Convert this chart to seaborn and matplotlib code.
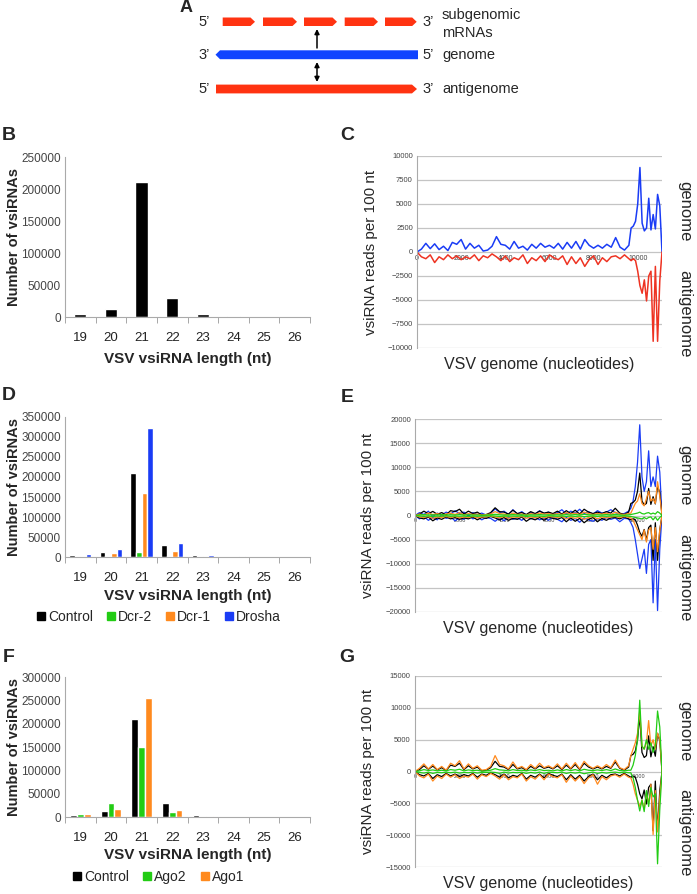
"""
VSV vsiRNA figure: size distributions (B, D, F) and genome coverage (C, E, G)
"""

import numpy as np
import pandas as pd
import matplotlib
matplotlib.use("Agg")
import matplotlib.pyplot as plt
from matplotlib.patches import Polygon
from matplotlib.lines import Line2D
import seaborn as sns

W, H = 697, 894

# ---- size distribution data (reads per length) ----
lengths = [19, 20, 21, 22, 23, 24, 25, 26]

b_control = [5000, 13000, 211000, 29000, 4000, 1000, 300, 100]

d_control = [5000, 13000, 211000, 29000, 4000, 1000, 300, 100]
d_dcr2 = [1000, 1500, 13000, 3000, 500, 200, 100, 50]
d_dcr1 = [3000, 9000, 159000, 16000, 2000, 500, 200, 100]
d_drosha = [7000, 20000, 322000, 35000, 6000, 2000, 1000, 500]

f_control = [5000, 13000, 211000, 29000, 4000, 1000, 300, 100]
f_ago2 = [7000, 31000, 150000, 11000, 500, 200, 100, 50]
f_ago1 = [6000, 18000, 255000, 14000, 2000, 500, 200, 100]

# ---- coverage along the genome (reads per 100 nt) ----
positions = [0, 200, 400, 600, 800, 1000, 1200, 1400,
             1600, 1800, 2000, 2200, 2400, 2600, 2800, 3000,
             3200, 3400, 3600, 3800, 4000, 4200, 4400, 4600,
             4800, 5000, 5200, 5400, 5600, 5800, 6000, 6200,
             6400, 6600, 6800, 7000, 7200, 7400, 7600, 7800,
             8000, 8200, 8400, 8600, 8800, 9000, 9200, 9400,
             9600, 9700, 9800, 9900, 10000, 10100, 10200, 10300,
             10400, 10500, 10600, 10700, 10800, 10900, 11000, 11100]

ctrl_pos = [0, 300, 900, 350, 850, 250, 600, 150,
            1000, 800, 1300, 300, 900, 400, 700, 100,
            200, 600, 1600, 800, 700, 300, 1100, 400,
            600, 200, 800, 400, 900, 500, 700, 400,
            900, 300, 1000, 400, 1100, 300, 1300, 700,
            400, 700, 400, 800, 500, 1500, 500, 200,
            700, 2500, 2700, 3200, 5000, 8800, 3000, 2200,
            2500, 5600, 2300, 3900, 2400, 6000, 4800, 0]
ctrl_neg = [0, -500, -700, -300, -1100, -500, -800, -300,
            -700, -400, -800, -500, -700, -300, -900, -400,
            -600, -200, -500, -900, -400, -1000, -600, -800,
            -300, -1200, -600, -900, -400, -1000, -300, -600,
            -800, -400, -1300, -500, -1200, -600, -1500, -800,
            -400, -1300, -600, -1000, -500, -400, -700, -300,
            -700, -900, -700, -900, -2000, -3500, -4300, -2900,
            -5100, -2500, -2000, -9300, -1500, -9300, -3000, 0]

drosha_pos = [0, 600, 200, 900, -200, 500, 100, 700,
              300, 1000, 400, 700, -100, 600, 200, 500,
              100, 400, 1400, 600, 900, 200, 1200, 300,
              800, 100, 600, 300, 1000, 400, 700, 200,
              600, 1200, 300, 900, 500, 1300, 400, 800,
              300, 1000, 500, 700, 1200, 600, 300, 400,
              900, 1500, 3000, 6000, 11000, 18800, 8000, 5000,
              7000, 13400, 6000, 8000, 6000, 12300, 9000, 0]
drosha_neg = [0, -700, -200, -1000, -400, -900, 200, -600,
              -300, -1100, -500, -800, 100, -700, -300, -900,
              -400, -600, -1200, -500, -1100, -300, -800, -500,
              -1000, -200, -700, -400, -900, -500, -1000, -300,
              -800, -1300, -400, -1000, -600, -1400, -500, -900,
              -1200, -600, -1000, -400, -800, -500, -1300, -600,
              -700, -1500, -2500, -5000, -8000, -11000, -9000, -7000,
              -12000, -6000, -5000, -18100, -5000, -19700, -7000, 0]

dcr1_pos = [0, 300, 100, 500, 200, 400, 100, 300,
            500, 200, 600, 100, 400, 200, 300, 100,
            200, 300, 800, 400, 300, 100, 500, 200,
            300, 100, 400, 200, 500, 300, 400, 200,
            400, 200, 600, 300, 500, 200, 700, 400,
            200, 400, 300, 500, 200, 700, 300, 200,
            400, 500, 1500, 2500, 3000, 4500, 2500, 2000,
            3500, 5000, 3000, 3500, 2500, 7000, 4000, 0]
dcr1_neg = [0, -300, -400, -200, -600, -300, -400, -200,
            -400, -200, -500, -300, -400, -200, -500, -300,
            -300, -100, -300, -500, -200, -600, -300, -400,
            -200, -600, -300, -500, -200, -500, -200, -300,
            -400, -200, -700, -300, -600, -300, -800, -400,
            -200, -700, -300, -500, -300, -200, -400, -200,
            -400, -500, -1000, -2000, -3000, -4000, -5000, -3000,
            -5500, -3000, -2500, -7000, -2500, -7500, -3000, 0]

dcr2_pos = [0, 100, 200, 100, 150, 100, 200, 100,
            150, 100, 200, 100, 150, 100, 100, 50,
            100, 150, 250, 150, 100, 100, 200, 100,
            150, 50, 150, 100, 200, 100, 150, 100,
            150, 100, 200, 100, 200, 100, 250, 150,
            100, 150, 100, 200, 100, 250, 100, 50,
            150, 200, 300, 400, 500, 700, 400, 300,
            500, 600, 300, 500, 300, 800, 500, 0]
dcr2_neg = [0, -100, -150, -100, -200, -100, -150, -50,
            -150, -100, -150, -100, -200, -100, -150, -100,
            -100, -50, -100, -200, -100, -150, -100, -150,
            -50, -200, -100, -150, -100, -200, -50, -100,
            -150, -100, -200, -100, -200, -100, -250, -150,
            -100, -200, -100, -150, -100, -100, -150, -50,
            -150, -200, -300, -400, -500, -600, -700, -400,
            -700, -400, -300, -900, -300, -1000, -400, 0]

ago1_pos = [0, 500, 1200, 400, 1100, 300, 800, 200,
            1300, 900, 1700, 400, 1200, 500, 900, 200,
            300, 800, 2500, 1100, 900, 400, 1500, 500,
            800, 300, 1100, 500, 1300, 600, 900, 500,
            1200, 400, 1300, 500, 1400, 400, 1600, 900,
            500, 900, 500, 1100, 600, 1800, 600, 300,
            900, 2500, 3500, 4500, 6000, 9500, 4000, 3500,
            4500, 8000, 4000, 5000, 3500, 6000, 5000, 0]
ago1_neg = [0, -700, -1000, -400, -1500, -700, -1100, -400,
            -900, -500, -1100, -700, -900, -400, -1200, -500,
            -800, -300, -700, -1200, -500, -1300, -800, -1000,
            -400, -1500, -800, -1200, -500, -1300, -400, -800,
            -1000, -500, -1700, -700, -1500, -800, -1900, -1000,
            -500, -2000, -800, -1300, -700, -500, -900, -400,
            -900, -1000, -2000, -3500, -4500, -5500, -4500, -6000,
            -3500, -5000, -2000, -9900, -3000, -9500, -4000, 0]

ago2_pos = [0, 100, 300, 150, 250, 100, 200, 100,
            300, 200, 350, 100, 250, 150, 200, 50,
            100, 200, 450, 250, 200, 100, 300, 150,
            200, 100, 250, 150, 300, 150, 200, 100,
            250, 100, 300, 150, 300, 100, 350, 200,
            150, 250, 150, 300, 150, 400, 150, 100,
            200, 200, 1000, 2500, 5000, 11200, 4000, 3500,
            5000, 3500, 4500, 3000, 4000, 9500, 7000, 0]
ago2_neg = [0, -150, -250, -100, -300, -150, -200, -100,
            -200, -100, -250, -150, -200, -100, -250, -150,
            -150, -100, -150, -300, -100, -250, -150, -200,
            -100, -300, -150, -250, -100, -300, -100, -150,
            -200, -100, -300, -150, -250, -150, -350, -200,
            -100, -300, -150, -250, -150, -100, -200, -100,
            -200, -200, -1000, -2500, -4500, -6200, -4500, -6300,
            -3000, -5500, -2500, -4000, -3500, -14500, -6000, 0]

# colours
BLACK = "#000000"
GREEN = "#22cc14"
ORANGE = "#ff8a1e"
BLUE = "#1a3cf5"
RED = "#ee3322"

sns.set_style("white")
plt.rcParams['font.family'] = ['Liberation Sans', 'DejaVu Sans']


def rect(l, t, r, b):
    """pixel box -> figure fraction"""
    return [l / W, 1 - b / H, (r - l) / W, (b - t) / H]


fig = plt.figure(figsize=(W / 100, H / 100), dpi=100)

# ---------------- panel A (schematic) ----------------
axA = fig.add_axes([0, 1 - 115 / H, 1, 115 / H])
axA.set_xlim(0, W)
axA.set_ylim(115, 0)
axA.axis("off")

seg_starts = [222.7, 263, 304, 344.7, 385]
seg_ends = [255, 297, 337, 378, 416.7]
for x0, x1 in zip(seg_starts, seg_ends):
    axA.add_patch(Polygon([(x0, 17.5), (x1 - 4.5, 17.5), (x1, 21.8),
                           (x1 - 4.5, 26), (x0, 26)], color="#ff3311", lw=0))
axA.add_patch(Polygon([(215.5, 54.7), (220, 50.3), (418, 50.3), (418, 59.2),
                       (220, 59.2)], color="#1144ff", lw=0))
axA.add_patch(Polygon([(216, 84.6), (412, 84.6), (417, 89), (412, 93.4),
                       (216, 93.4)], color="#ff3311", lw=0))
axA.annotate("", xy=(317, 29), xytext=(317, 48),
             arrowprops=dict(arrowstyle="-|>", color="black", lw=1.1,
                             mutation_scale=7, shrinkA=0, shrinkB=0))
axA.annotate("", xy=(317, 62), xytext=(317, 82),
             arrowprops=dict(arrowstyle="<|-|>", color="black", lw=1.1,
                             mutation_scale=7, shrinkA=0, shrinkB=0))
fs = 10.5
for y, left, right in [(22, "5\u2019", "3\u2019"), (55, "3\u2019", "5\u2019"),
                       (89, "5\u2019", "3\u2019")]:
    axA.text(204, y, left, fontsize=fs, ha="center", va="center")
    axA.text(428, y, right, fontsize=fs, ha="center", va="center")
axA.text(442, 15, "subgenomic", fontsize=fs, va="center")
axA.text(442, 33, "mRNAs", fontsize=fs, va="center")
axA.text(442, 55, "genome", fontsize=fs, va="center")
axA.text(442, 89, "antigenome", fontsize=fs, va="center")
axA.text(186, 8, "A", fontsize=13, fontweight="bold", ha="center", va="center")


# ---------------- bar panels ----------------
def bar_panel(box, series, names, colors, ymax, width, legend, label_off):
    ax = fig.add_axes(rect(*box))
    hgt = box[3] - box[1]
    df = pd.DataFrame({
        "length": np.tile(lengths, len(series)),
        "count": np.concatenate(series),
        "condition": np.repeat(names, len(lengths)),
    })
    sns.barplot(data=df, x="length", y="count", hue="condition",
                hue_order=names, palette=colors, width=width,
                saturation=1, legend=False, ax=ax)
    ax.set_ylim(0, ymax)
    ax.set_yticks(np.arange(0, ymax + 1, 50000))
    ax.set_yticklabels([str(v) for v in np.arange(0, ymax + 1, 50000)])
    ax.set_xlim(-0.5, len(lengths) - 0.5)
    ax.set_xticks(np.arange(-0.5, len(lengths), 1.0), minor=True)
    ax.tick_params(axis="x", which="major", length=0, labelsize=9.5,
                   colors="#222222", pad=11)
    ax.tick_params(axis="x", which="minor", length=4, color="#999999",
                   direction="out", bottom=True)
    ax.tick_params(axis="y", length=0, labelsize=8.5, colors="#444444", pad=3)
    for s in ["top", "right"]:
        ax.spines[s].set_visible(False)
    for s in ["left", "bottom"]:
        ax.spines[s].set_color("#aaaaaa")
        ax.spines[s].set_linewidth(0.8)
    ax.set_xlabel("VSV vsiRNA length (nt)", fontsize=11, fontweight="bold")
    ax.set_ylabel("Number of vsiRNAs", fontsize=10.5, fontweight="bold")
    ax.yaxis.set_label_coords(-0.18, 0.5)
    ax.xaxis.set_label_coords(0.5, -label_off / hgt)
    if legend:
        handles = [Line2D([], [], marker="s", ls="", color=c, markersize=5.5)
                   for c in colors]
        ax.legend(handles, names, ncol=len(names), loc="center",
                  bbox_to_anchor=(0.38, -60 / hgt),
                  frameon=False, fontsize=10, handletextpad=0.1,
                  columnspacing=0.9, handlelength=0.8)
    return ax


bar_panel((65, 157, 310, 317), [b_control], ["Control"], [BLACK],
          250000, 0.4, False, 35)
bar_panel((65, 417, 310, 557), [d_control, d_dcr2, d_dcr1, d_drosha],
          ["Control", "Dcr-2", "Dcr-1", "Drosha"],
          [BLACK, GREEN, ORANGE, BLUE], 350000, 0.73, True, 32)
bar_panel((65, 677, 310, 817), [f_control, f_ago2, f_ago1],
          ["Control", "Ago2", "Ago1"], [BLACK, GREEN, ORANGE],
          300000, 0.67, True, 31)


# ---------------- coverage panels ----------------
def line_panel(box, lines, ylim, ystep, lw, xtick_size):
    ax = fig.add_axes(rect(*box))
    for vals, col in lines:
        sns.lineplot(x=positions, y=vals, color=col, lw=lw, ax=ax,
                     estimator=None, sort=False)
    ax.set_xlim(0, 11100)
    ax.set_ylim(-ylim, ylim)
    ax.set_yticks(np.arange(-ylim, ylim + 1, ystep))
    ax.set_xticks(np.arange(0, 10001, 2000))
    ax.yaxis.grid(True, color="#c4c4c4", lw=0.9)
    ax.xaxis.grid(False)
    ax.set_axisbelow(True)
    ax.spines["bottom"].set_position(("data", 0))
    for s in ["top", "right", "bottom"]:
        ax.spines[s].set_visible(False)
    ax.spines["left"].set_color("#aaaaaa")
    ax.tick_params(axis="x", length=0, labelsize=xtick_size,
                   colors="#444444", pad=2)
    ax.tick_params(axis="y", length=0, labelsize=5.5, colors="#444444", pad=3)
    ax.set_xlabel("VSV genome (nucleotides)", fontsize=11.5)
    ax.set_ylabel("vsiRNA reads per 100 nt", fontsize=11)
    hgt = box[3] - box[1]
    ax.xaxis.set_label_coords(0.5, -9 / hgt)
    ax.yaxis.set_label_coords(-0.16, 0.5)
    ax.text(1.094, 0.71, "genome", rotation=-90, fontsize=12,
            ha="center", va="center", transform=ax.transAxes)
    ax.text(1.094, 0.18, "antigenome", rotation=-90, fontsize=12,
            ha="center", va="center", transform=ax.transAxes)
    return ax


line_panel((417, 156, 662, 348),
           [(ctrl_pos, BLUE), (ctrl_neg, RED)], 10000, 2500, 1.1, 5)
line_panel((415, 419, 662, 612),
           [(drosha_pos, BLUE), (drosha_neg, BLUE),
            (ctrl_pos, BLACK), (ctrl_neg, BLACK),
            (dcr1_pos, ORANGE), (dcr1_neg, ORANGE),
            (dcr2_pos, GREEN), (dcr2_neg, GREEN)], 20000, 5000, 0.9, 4)
line_panel((415, 676, 662, 867),
           [(ctrl_pos, BLACK), (ctrl_neg, BLACK),
            (ago1_pos, ORANGE), (ago1_neg, ORANGE),
            (ago2_pos, GREEN), (ago2_neg, GREEN)], 15000, 5000, 0.9, 4)

# panel letters
for x, y, lab in [(9, 136, "B"), (347, 136, "C"), (9, 395, "D"),
                  (347, 397, "E"), (9, 657, "F"), (347, 657, "G")]:
    fig.text(x / W, 1 - y / H, lab, fontsize=14, fontweight="bold",
             ha="center", va="center")

fig.savefig("out.png", dpi=100)
